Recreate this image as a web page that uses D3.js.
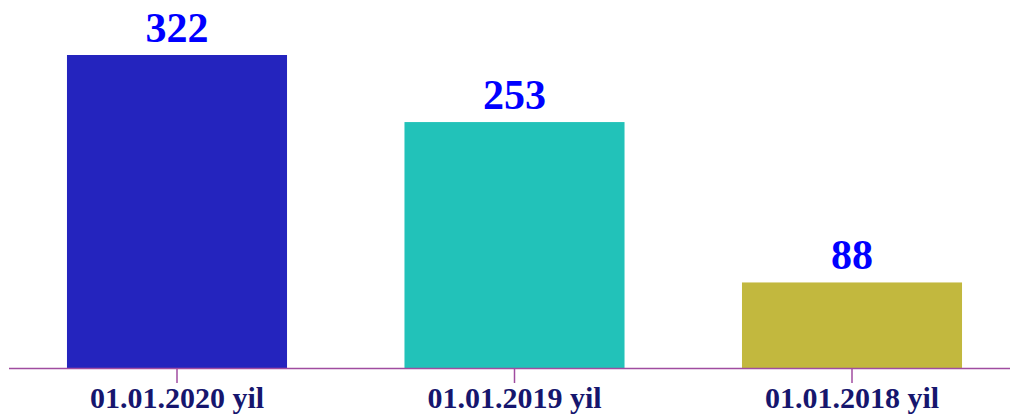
<!DOCTYPE html>
<html>
<head>
<meta charset="utf-8">
<script src="https://cdn.jsdelivr.net/npm/d3@7"></script>
<style>
  html, body { margin: 0; padding: 0; background: #fff; }
  svg { display: block; }
</style>
</head>
<body>
<svg id="chart" width="1010" height="414"></svg>
<script>
const categories = ["01.01.2020 yil", "01.01.2019 yil", "01.01.2018 yil"];
const values = [322, 253, 88];
const colors = ["#2424BE", "#22C2B9", "#C2B83E"];

const svg = d3.select("#chart");

const x = d3.scaleBand()
  .domain(categories)
  .range([8.25, 1020.75])
  .paddingInner(0.348)
  .paddingOuter(0.174);

const y = d3.scaleLinear()
  .domain([0, 322])
  .range([368, 55]);

svg.selectAll("rect.bar")
  .data(values)
  .join("rect")
  .attr("class", "bar")
  .attr("x", (d, i) => x(categories[i]))
  .attr("y", d => y(d))
  .attr("width", x.bandwidth())
  .attr("height", d => y(0) - y(d))
  .attr("fill", (d, i) => colors[i]);

svg.selectAll("text.val")
  .data(values)
  .join("text")
  .attr("class", "val")
  .attr("x", (d, i) => x(categories[i]) + x.bandwidth() / 2)
  .attr("y", d => y(d) - 13)
  .attr("text-anchor", "middle")
  .attr("font-family", "'Liberation Serif', 'Times New Roman', serif")
  .attr("font-weight", "bold")
  .attr("font-size", 42)
  .attr("fill", "#0000FF")
  .text(d => d);

const axis = svg.append("g")
  .attr("transform", `translate(0,${y(0)})`)
  .call(d3.axisBottom(x).tickSize(15).tickSizeOuter(0));

axis.select(".domain")
  .attr("d", "M9,0.5H1010")
  .attr("stroke", "#A04CA0")
  .attr("stroke-width", 1.5);
axis.selectAll(".tick line")
  .attr("stroke", "#A04CA0")
  .attr("stroke-width", 1.5);
axis.selectAll(".tick text")
  .attr("y", 40)
  .attr("dy", 0)
  .attr("font-family", "'Liberation Serif', 'Times New Roman', serif")
  .attr("font-weight", "bold")
  .attr("font-size", 30)
  .attr("fill", "#16166E");
</script>
</body>
</html>
